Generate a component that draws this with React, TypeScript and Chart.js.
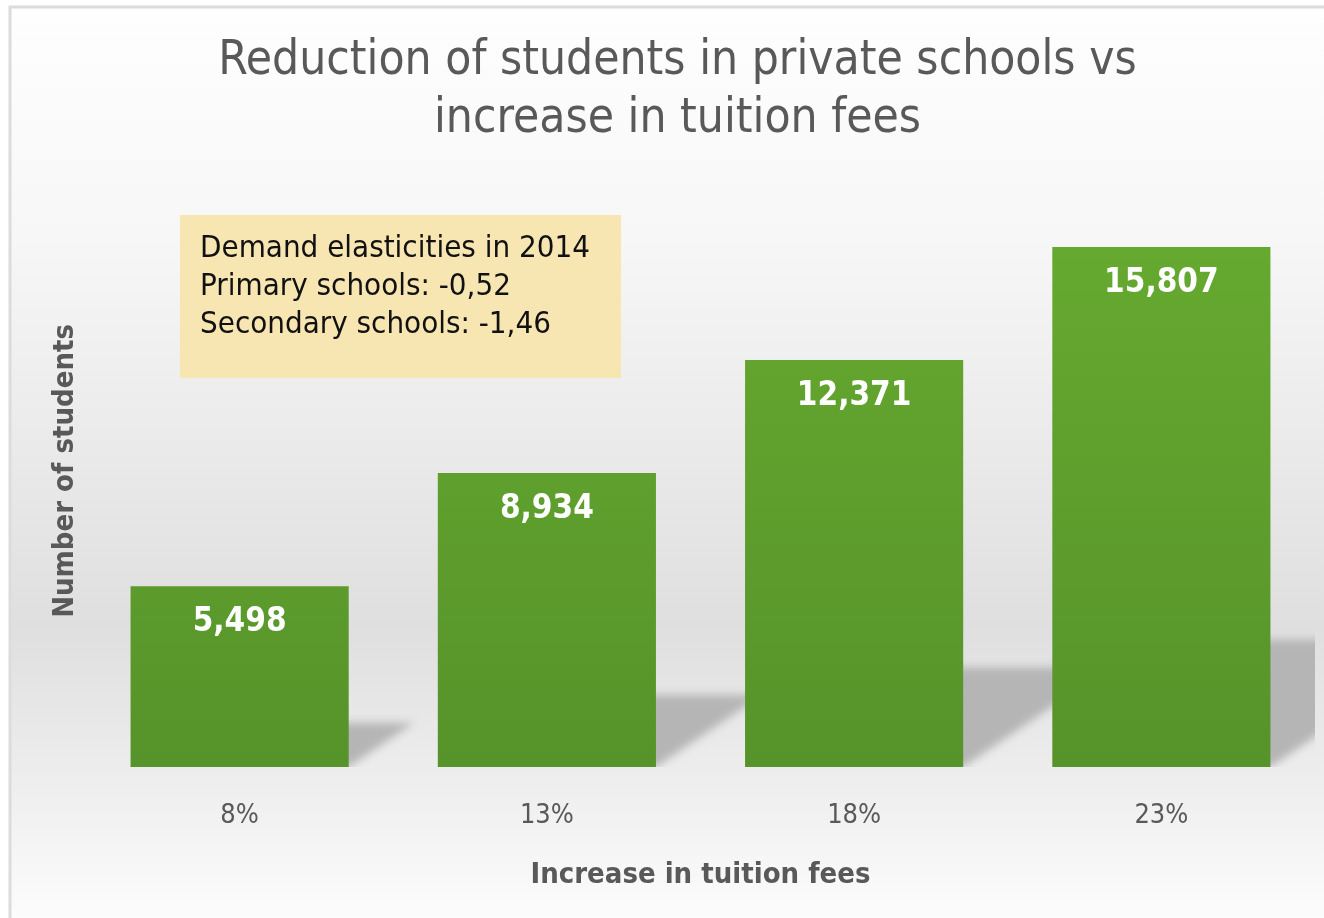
import React, { useEffect, useRef } from "react";
import { Chart, registerables } from "chart.js";

Chart.register(...registerables);

const categories = ["8%", "13%", "18%", "23%"];
const students = [5498, 8934, 12371, 15807];
const titleLines = ["Reduction of students in private schools vs", "increase in tuition fees"];
const xTitle = "Increase in tuition fees";
const yTitle = "Number of students";
const noteLines = ["Demand elasticities in 2014", "Primary schools: -0,52", "Secondary schools: -1,46"];
const yMax = 18000;

const FONT = "'DejaVu Sans Condensed', 'DejaVu Sans', sans-serif";

const backgroundPlugin = {
  id: "bgPlugin",
  beforeDraw(chart: any) {
    const { ctx, width, height } = chart;
    ctx.save();
    ctx.fillStyle = "#ffffff";
    ctx.fillRect(0, 0, width, height);
    const g = ctx.createLinearGradient(0, 8, 0, height);
    g.addColorStop(0, "#fefefe");
    g.addColorStop(0.25, "#f7f7f7");
    g.addColorStop(0.68, "#dfdfdf");
    g.addColorStop(0.84, "#ededed");
    g.addColorStop(1, "#fcfcfc");
    ctx.fillStyle = g;
    ctx.fillRect(10, 7, width, height);
    ctx.strokeStyle = "#dcdcdc";
    ctx.lineWidth = 3;
    ctx.beginPath();
    ctx.moveTo(10, height + 5);
    ctx.lineTo(10, 7);
    ctx.lineTo(width + 5, 7);
    ctx.stroke();
    ctx.restore();
  },
};

const shadowPlugin = {
  id: "shadowPlugin",
  beforeDatasetsDraw(chart: any) {
    const { ctx, chartArea } = chart;
    const meta = chart.getDatasetMeta(0);
    ctx.save();
    ctx.beginPath();
    ctx.rect(chartArea.left, chartArea.top, chartArea.right - chartArea.left, chartArea.bottom - chartArea.top);
    ctx.clip();
    ctx.filter = "blur(4px)";
    ctx.fillStyle = "#b5b5b5";
    meta.data.forEach((bar: any) => {
      const right = bar.x + bar.width / 2;
      const h = bar.base - bar.y;
      const sh = h * 0.245;
      const dx = sh / 0.68;
      ctx.beginPath();
      ctx.moveTo(right - 10, bar.base);
      ctx.lineTo(right - 10, bar.base - sh);
      ctx.lineTo(right + dx, bar.base - sh);
      ctx.lineTo(right, bar.base);
      ctx.closePath();
      ctx.fill();
    });
    ctx.restore();
  },
};

const labelPlugin = {
  id: "labelPlugin",
  afterDatasetsDraw(chart: any) {
    const { ctx } = chart;
    const meta = chart.getDatasetMeta(0);
    const values = chart.data.datasets[0].data;
    ctx.save();
    ctx.fillStyle = "#ffffff";
    ctx.font = `bold 33px ${FONT}`;
    ctx.textAlign = "center";
    ctx.textBaseline = "middle";
    meta.data.forEach((bar: any, i: number) => {
      ctx.fillText(Number(values[i]).toLocaleString("en-US"), bar.x, bar.y + 36);
    });
    ctx.restore();
  },
};

const notePlugin = {
  id: "notePlugin",
  afterDraw(chart: any) {
    const { ctx } = chart;
    ctx.save();
    ctx.fillStyle = "#f8e6b2";
    ctx.fillRect(180, 215, 441, 163);
    ctx.fillStyle = "#111111";
    ctx.font = `31px ${FONT}`;
    ctx.textAlign = "left";
    ctx.textBaseline = "alphabetic";
    noteLines.forEach((line, i) => {
      ctx.fillText(line, 200, 257 + i * 38);
    });
    ctx.restore();
  },
};

export default function App() {
  const canvasRef = useRef<HTMLCanvasElement | null>(null);

  useEffect(() => {
    if (!canvasRef.current) return;
    const chart = new Chart(canvasRef.current, {
      type: "bar",
      data: {
        labels: categories,
        datasets: [
          {
            data: students,
            backgroundColor: (c: any) => {
              const { chart } = c;
              const area = chart.chartArea;
              if (!area) return "#5f9f2a";
              const g = chart.ctx.createLinearGradient(0, area.top, 0, area.bottom);
              g.addColorStop(0, "#68ac30");
              g.addColorStop(1, "#56932a");
              return g;
            },
            borderWidth: 0,
            categoryPercentage: 1,
            barPercentage: 0.71,
          },
        ],
      },
      options: {
        responsive: false,
        animation: false,
        devicePixelRatio: 1,
        layout: { padding: { left: 40, right: 9, top: 0, bottom: 0 } },
        plugins: {
          legend: { display: false },
          tooltip: { enabled: false },
          title: {
            display: true,
            text: titleLines,
            color: "#595959",
            font: { family: FONT, size: 47.5, weight: "normal", lineHeight: 1.23 },
            padding: { top: 32, bottom: 26 },
          },
        },
        scales: {
          x: {
            grid: { display: false, drawTicks: false },
            border: { display: false },
            ticks: {
              color: "#595959",
              font: { family: FONT, size: 27 },
              padding: 33,
            },
            title: {
              display: true,
              text: xTitle,
              color: "#595959",
              font: { family: FONT, size: 29, weight: "bold", lineHeight: 1.2 },
              padding: { top: 0, bottom: 25 },
            },
            afterFit: (scale: any) => {
              scale.height = 151;
            },
          },
          y: {
            min: 0,
            max: yMax,
            grid: { display: false, drawTicks: false },
            border: { display: false },
            ticks: { display: false },
            title: {
              display: true,
              text: yTitle,
              color: "#595959",
              font: { family: FONT, size: 29, weight: "bold", lineHeight: 1.2 },
              padding: { top: 8, bottom: 0 },
            },
            afterFit: (scale: any) => {
              scale.width = 46;
            },
          },
        },
      },
      plugins: [backgroundPlugin, shadowPlugin, labelPlugin, notePlugin],
    });
    return () => chart.destroy();
  }, []);

  return (
    <div style={{ position: "absolute", left: 0, top: 0, width: 1324, height: 918 }}>
      <canvas ref={canvasRef} width={1324} height={918} style={{ width: 1324, height: 918, display: "block" }} />
    </div>
  );
}
